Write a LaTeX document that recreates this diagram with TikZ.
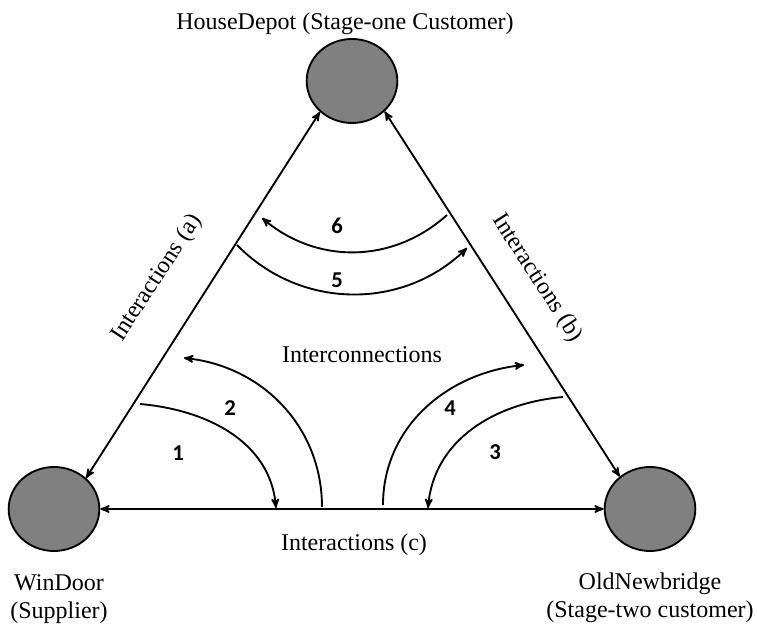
\documentclass[tikz,border=0pt]{standalone}
\usepackage{fontspec}
\setmainfont{Liberation Serif}
\newfontfamily\numfont{Carlito}
\usepackage{tikz}
\usetikzlibrary{arrows,shapes.geometric}
\definecolor{firmgray}{RGB}{128,128,128}

\begin{document}
\begin{tikzpicture}[>=stealth',x=0.75pt,y=0.75pt,line width=1.4pt,
    firm/.style={ellipse,draw,fill=firmgray,minimum width=68pt,minimum height=63pt,inner sep=0pt},
    txt/.style={font=\fontsize{18}{21}\selectfont,align=center},
    num/.style={font=\numfont\bfseries\fontsize{17}{19}\selectfont}]
      \useasboundingbox (0,0) rectangle (757,625);

      \node[firm] (hd) at (352,544) {};
      \node[firm] (wd) at (54,116) {};
      \node[firm] (on) at (650,116) {};

      \node[txt] (hdl) at (345,601) {HouseDepot (Stage-one Customer)};
      \node[txt] (wdl) at (59,26) {WinDoor\\(Supplier)};
      \node[txt] (onl) at (650,27) {OldNewbridge\\(Stage-two customer)};
      \node[txt,rotate=57] (ia) at (157,347) {Interactions (a)};
      \node[txt,rotate=-57] (ib) at (537,347) {Interactions (b)};
      \node[txt] (ic) at (354,80) {Interactions (c)};
      \node[txt] (icn) at (362,270) {Interconnections};

      \path[<->]
      (wd.44) edge (hd.224)
      (on.133) edge (hd.317)
      (wd) edge (on)
      ;

      \coordinate (s1) at (140,221); \coordinate (t1) at (276,117);
      \coordinate (s2) at (322,118); \coordinate (t2) at (184,267);
      \coordinate (s3) at (563,228); \coordinate (t3) at (428,117);
      \coordinate (s4) at (383,120); \coordinate (t4) at (524,260);
      \coordinate (s5) at (237,380); \coordinate (t5) at (467,377);
      \coordinate (s6) at (447,410); \coordinate (t6) at (262,407);

      \path[->]
      (s1) edge [out=-5,in=95] (t1)
      (s2) edge [out=90,in=-6] (t2)
      (s3) edge [out=185,in=85] (t3)
      (s4) edge [out=90,in=186] (t4)
      (s5) edge [bend right=45] (t5)
      (s6) edge [bend left=41] (t6)
      ;

      \node[num] (n1) at (178,172) {1};
      \node[num] (n2) at (230,217) {2};
      \node[num] (n3) at (495,173) {3};
      \node[num] (n4) at (450,217) {4};
      \node[num] (n5) at (337,345) {5};
      \node[num] (n6) at (337,399) {6};
    \end{tikzpicture}
\end{document}
